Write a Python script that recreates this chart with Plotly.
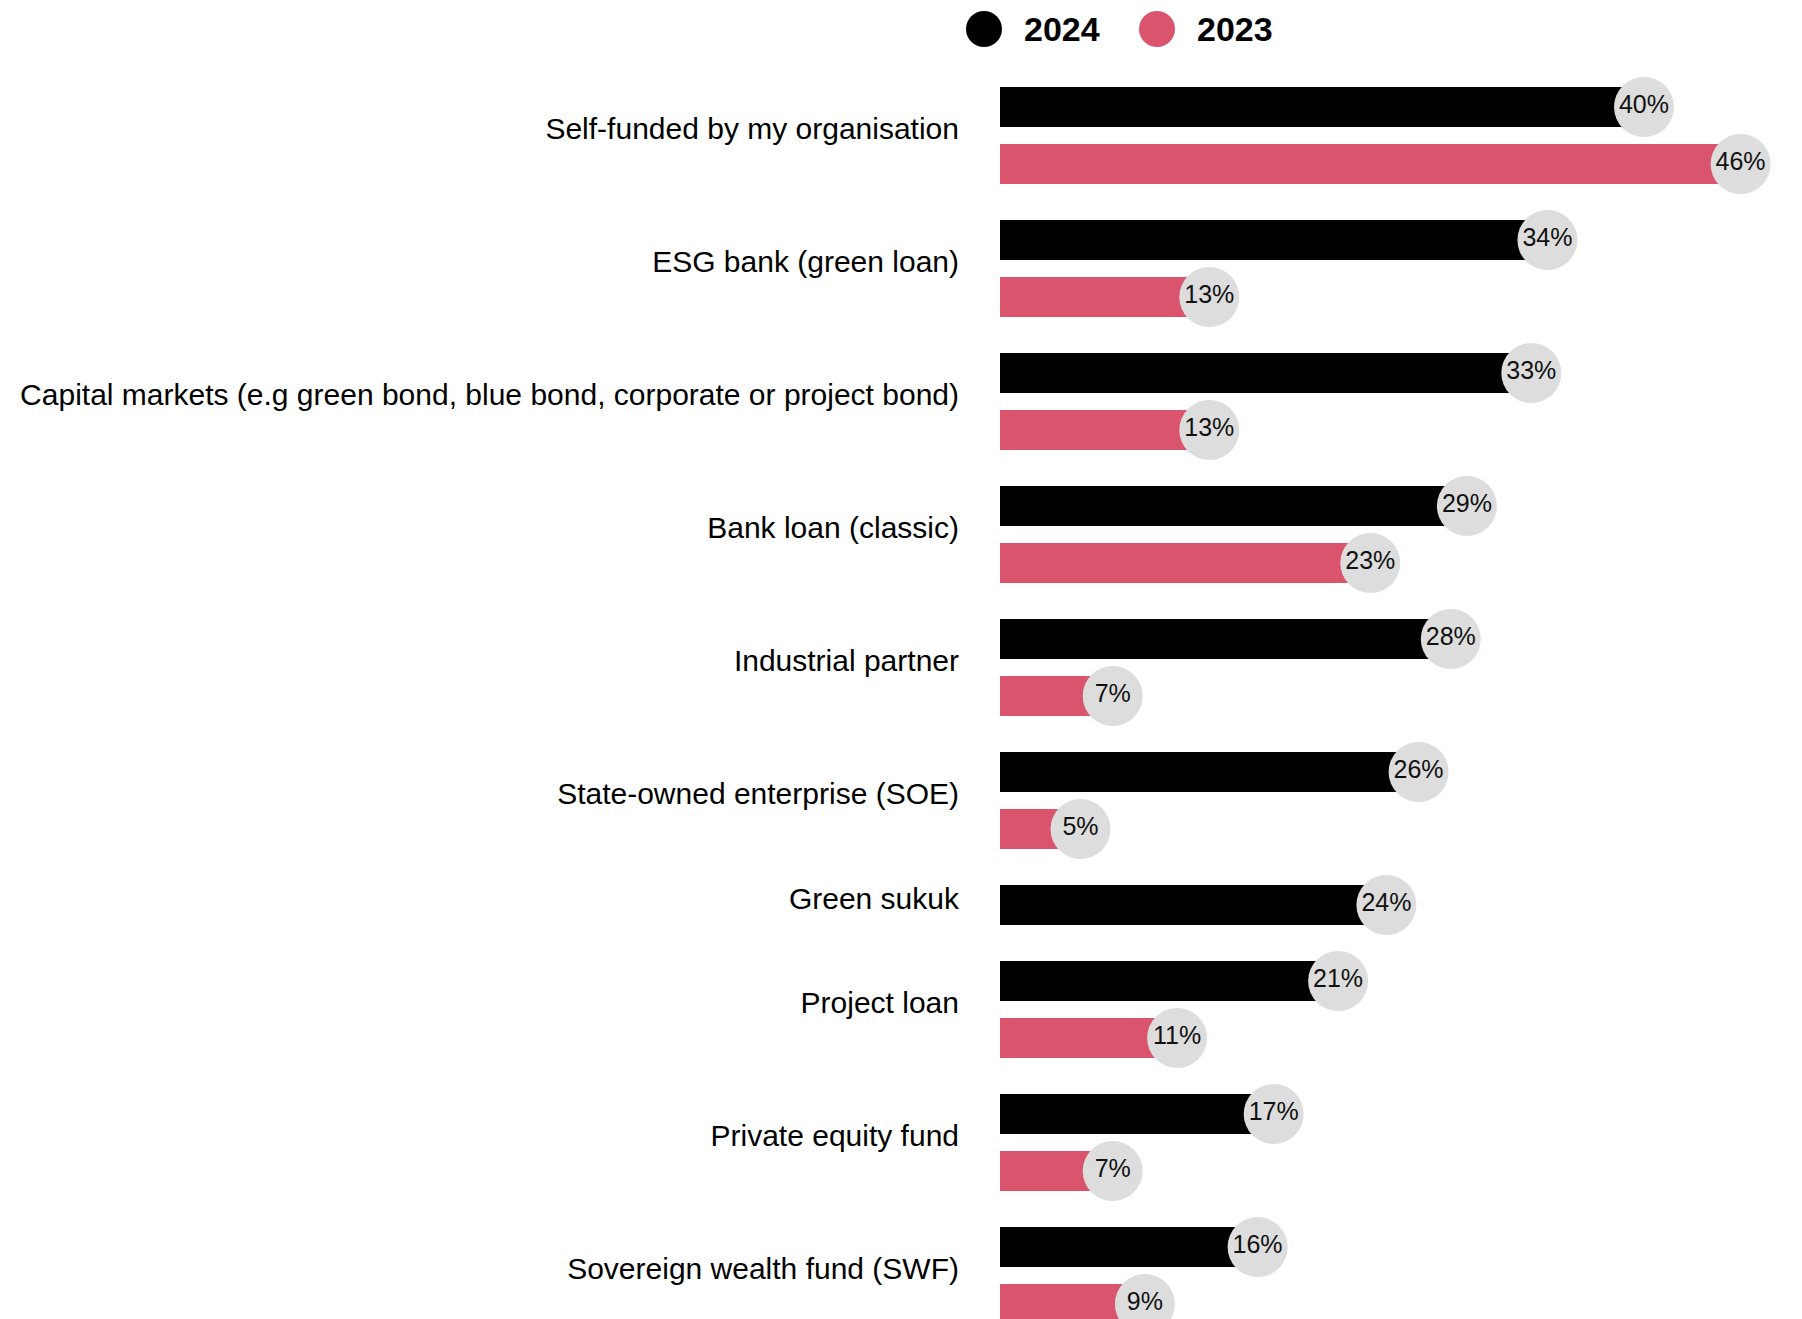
import plotly.graph_objects as go

# Funding sources and shares of respondents (%)
categories = [
    "Self-funded by my organisation",
    "ESG bank (green loan)",
    "Capital markets (e.g green bond, blue bond, corporate or project bond)",
    "Bank loan (classic)",
    "Industrial partner",
    "State-owned enterprise (SOE)",
    "Green sukuk",
    "Project loan",
    "Private equity fund",
    "Sovereign wealth fund (SWF)",
]
values_2024 = [40, 34, 33, 29, 28, 26, 24, 21, 17, 16]
values_2023 = [46, 13, 13, 23, 7, 5, None, 11, 7, 9]

series_names = ["2024", "2023"]
series_colors = ["#000000", "#DA546D"]
bubble_color = "#DDDDDD"
FONT = "Liberation Sans, Arial, Helvetica, sans-serif"

W, H = 1802, 1319
LEFT = 1000           # left edge of the bar area, px
PX_PER_UNIT_Y = 57    # pixel distance between two bars of one group
FIRST_ROW_PX = 107    # centre of the first bar, px from the top
GROUP_STEP = 76 / 57  # step from last bar of a group to first bar of the next
PX_PER_PCT = 16.1
LABEL_LIFT = 0.12     # category labels sit slightly above the group centre

# Row positions: one row per available value, groups stacked top to bottom
rows_2024, rows_2023, group_centres = [], [], []
pos = 0.0
for v24, v23 in zip(values_2024, values_2023):
    rows_2024.append(pos)
    last = pos
    if v23 is not None:
        rows_2023.append(pos + 1)
        last = pos + 1
    else:
        rows_2023.append(None)
    group_centres.append((pos + last) / 2 - LABEL_LIFT)
    pos = last + GROUP_STEP

fig = go.Figure()
for name, color, vals, rows in [
    (series_names[0], series_colors[0], values_2024, rows_2024),
    (series_names[1], series_colors[1], values_2023, rows_2023),
]:
    xs = [v for v in vals if v is not None]
    ys = [r for v, r in zip(vals, rows) if v is not None]
    fig.add_trace(go.Bar(
        x=xs, y=ys, orientation="h", width=0.70,
        marker=dict(color=color, line=dict(width=0)),
        name=name, showlegend=False, hoverinfo="skip",
    ))
    fig.add_trace(go.Scatter(
        x=xs, y=ys, mode="markers+text",
        marker=dict(size=60, color=bubble_color, line=dict(width=0)),
        text=[f"{v}%" for v in xs], textposition="middle center",
        textfont=dict(family=FONT, size=25, color="#111111"),
        showlegend=False, hoverinfo="skip",
    ))

# Custom legend: filled circles with bold year labels above the bars
plot_w = W - LEFT
legend_y = 1 - 29 / H
legend_items = [(984, 1022), (1157, 1195)]
for (cx, tx), name, color in zip(legend_items, series_names, series_colors):
    fig.add_shape(
        type="circle", xref="paper", yref="paper",
        xsizemode="pixel", ysizemode="pixel",
        xanchor=(cx - LEFT) / plot_w, yanchor=legend_y,
        x0=-18, x1=18, y0=-18, y1=18,
        fillcolor=color, line=dict(width=0),
    )
    fig.add_annotation(
        x=(tx - LEFT) / plot_w, y=legend_y, xref="paper", yref="paper",
        xanchor="left", yanchor="middle", showarrow=False,
        text=f"<b>{name}</b>",
        font=dict(family=FONT, size=34, color="#000000"),
    )

fig.update_layout(
    width=W, height=H,
    margin=dict(l=LEFT, r=0, t=0, b=0),
    paper_bgcolor="white", plot_bgcolor="white",
    barmode="overlay",
    showlegend=False,
)
fig.update_xaxes(
    range=[0, plot_w / PX_PER_PCT], visible=False, fixedrange=True,
)
fig.update_yaxes(
    range=[(H - FIRST_ROW_PX) / PX_PER_UNIT_Y, -FIRST_ROW_PX / PX_PER_UNIT_Y],
    tickvals=group_centres, ticktext=categories,
    ticks="", showline=False, showgrid=False, zeroline=False,
    ticklabelstandoff=40,
    tickfont=dict(family=FONT, size=30, color="#000000"),
    automargin=False, fixedrange=True,
)

fig.write_html("out.html")
